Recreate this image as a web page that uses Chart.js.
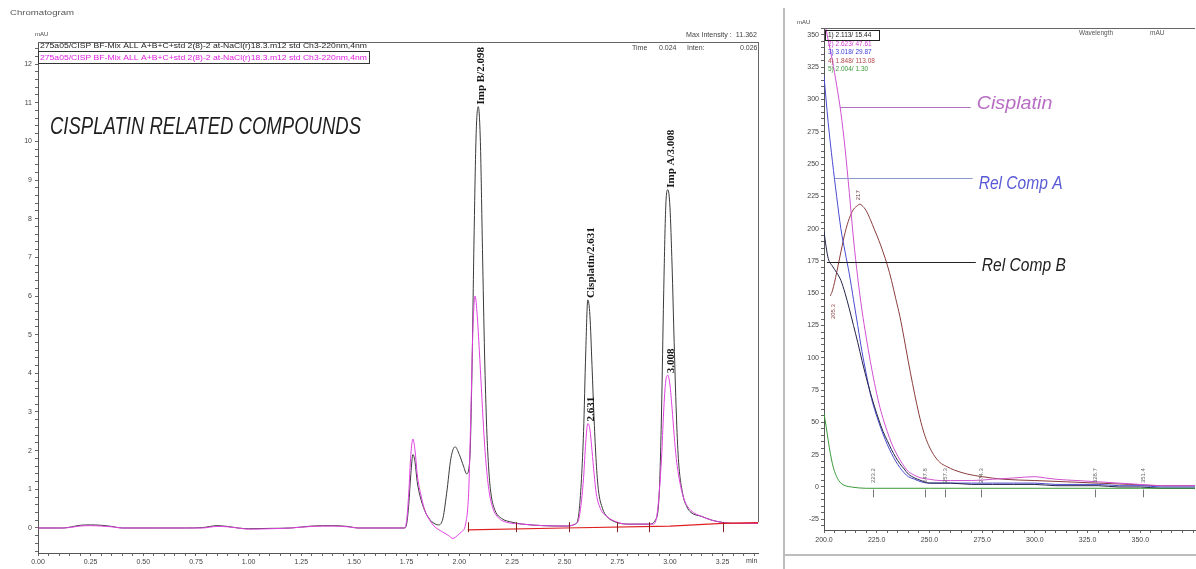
<!DOCTYPE html>
<html><head><meta charset="utf-8">
<script src="https://cdn.jsdelivr.net/npm/chart.js@4.4.1/dist/chart.umd.min.js"></script>
<style>
html,body{margin:0;padding:0;background:#fff;width:1196px;height:569px;overflow:hidden;position:relative}
#left{position:absolute;left:0;top:0}
#right{position:absolute;left:786px;top:0}
.sep{position:absolute;background:#bdbdbd;z-index:2}
</style></head><body>
<canvas id="left" width="783" height="569"></canvas>
<canvas id="right" width="410" height="569"></canvas>
<div class="sep" style="left:783px;top:8px;width:2px;height:561px"></div>
<div class="sep" style="left:785px;top:554px;width:411px;height:2px"></div>
<script>
// ===== LEFT: chromatogram (time in min, signal in mAU) =====
const blackTrace = [
 [0.00,0],[0.12,0],[0.16,0.03],[0.20,0.07],[0.25,0.08],[0.30,0.07],[0.35,0.04],[0.40,0],[0.55,0],[0.70,0],
 [0.78,0.01],[0.85,0.06],[0.90,0.04],[0.95,0],[1.00,-0.02],[1.10,-0.01],[1.20,0],[1.30,0.05],[1.40,0.06],[1.47,0.04],
 [1.52,0],[1.60,0],[1.70,0],[1.74,0],[1.75,0.1],[1.76,0.6],[1.77,1.4],[1.78,1.9],[1.79,1.7],[1.80,1.2],
 [1.82,0.7],[1.84,0.4],[1.86,0.22],[1.88,0.12],[1.90,0.08],[1.92,0.2],[1.94,0.9],[1.96,1.8],[1.98,2.1],[2.00,1.9],
 [2.02,1.6],[2.035,1.4],[2.05,1.8],[2.06,4.0],[2.07,7.5],[2.08,10.2],[2.09,10.9],[2.10,10.0],[2.11,7.2],[2.12,4.5],
 [2.13,2.6],[2.14,1.5],[2.15,0.9],[2.17,0.45],[2.20,0.25],[2.25,0.15],[2.30,0.1],[2.40,0.06],[2.50,0.05],[2.55,0.1],
 [2.57,0.5],[2.59,2.5],[2.60,4.5],[2.61,5.9],[2.62,5.5],[2.63,4.2],[2.64,2.8],[2.65,1.7],[2.66,1.0],[2.68,0.5],
 [2.70,0.3],[2.73,0.18],[2.80,0.1],[2.90,0.1],[2.93,0.2],[2.95,1.0],[2.96,3.0],[2.97,6.0],[2.98,8.3],[2.99,8.75],
 [3.00,8.3],[3.01,6.8],[3.02,4.8],[3.03,3.0],[3.04,1.8],[3.06,0.9],[3.08,0.55],[3.10,0.4],[3.15,0.3],[3.20,0.2],
 [3.30,0.12],[3.42,0.12]
];
const magentaTrace = [
 [0.00,0],[0.12,0],[0.16,0.02],[0.20,0.05],[0.25,0.06],[0.30,0.05],[0.35,0.03],[0.40,0],[0.55,0],[0.70,0],
 [0.78,0],[0.85,0.04],[0.90,0.03],[0.95,0],[1.00,-0.03],[1.10,-0.02],[1.20,0],[1.30,0.04],[1.40,0.05],[1.47,0.03],
 [1.52,0],[1.60,0],[1.70,0],[1.74,0],[1.75,0.2],[1.76,0.9],[1.77,1.9],[1.78,2.3],[1.79,2.0],[1.80,1.4],
 [1.82,0.8],[1.84,0.4],[1.86,0.2],[1.88,0.05],[1.92,-0.1],[1.95,-0.2],[1.97,-0.27],[1.99,-0.2],[2.01,-0.1],[2.03,0.1],
 [2.045,1.0],[2.055,3.0],[2.065,5.2],[2.075,6.0],[2.085,5.5],[2.095,4.6],[2.105,3.6],[2.115,2.6],[2.125,1.8],[2.14,1.0],
 [2.16,0.5],[2.18,0.3],[2.20,0.2],[2.30,0.1],[2.50,0.05],[2.55,0.1],[2.57,0.3],[2.59,1.3],[2.60,2.2],[2.61,2.7],
 [2.62,2.55],[2.63,2.0],[2.64,1.4],[2.65,0.9],[2.67,0.5],[2.70,0.3],[2.75,0.15],[2.80,0.1],[2.92,0.1],[2.94,0.4],
 [2.96,1.8],[2.97,3.0],[2.98,3.8],[2.99,3.95],[3.00,3.7],[3.01,3.1],[3.02,2.4],[3.03,1.8],[3.05,1.1],[3.07,0.7],
 [3.10,0.45],[3.15,0.3],[3.20,0.2],[3.30,0.12],[3.42,0.12]
];
const integrationBaseline = [[2.04,-0.05],[2.50,0.0],[3.00,0.05],[3.25,0.12],[3.42,0.14]];
const baselineMarks = [2.04, 2.27, 2.52, 2.75, 2.90, 3.25];
const leftPeakLabels = [
 {text:'Imp B/2.098', t:2.09, v:10.9},
 {text:'Cisplatin/2.631', t:2.61, v:5.9},
 {text:'Imp A/3.008', t:2.99, v:8.75},
 {text:'2.631', t:2.61, v:2.7},
 {text:'3.008', t:2.99, v:3.95}
];
const leftLegend = [
 '275a05/CISP BF-Mix ALL A+B+C+std 2(8)-2 at-NaCl(r)18.3.m12 std Ch3-220nm,4nm',
 '275a05/CISP BF-Mix ALL A+B+C+std 2(8)-2 at-NaCl(r)18.3.m12 std Ch3-220nm,4nm'
];

// ===== RIGHT: UV spectra (wavelength nm, absorbance mAU) =====
const spec1Black = [
 [200,198],[201,186],[202,177],[204,171],[206,166],[208,160],[210,150],[212,138],[214,125],[216,112],
 [218,98],[220,85],[222,73],[224,62],[226,52],[228,43],[230,36],[232,29],[234,23],[236,18],
 [238,14],[240,10],[243,7],[246,5],[250,3],[260,3],[270,2],[280,2],[290,2],[300,2],
 [310,1],[320,1],[330,1],[340,0],[350,0],[360,-1],[376,-1]
];
const spec2Magenta = [
 [200,362],[202,346],[204,330],[206,311],[208,290],[210,262],[212,228],[214,192],[216,162],[218,137],
 [220,116],[222,97],[224,80],[226,65],[228,53],[230,43],[232,34],[234,27],[236,21],[238,16],
 [240,12],[243,9],[246,7],[250,6],[255,5],[260,5],[270,5],[280,6],[290,7],[300,8],
 [305,7],[310,6],[320,5],[330,4],[340,3],[350,2],[360,1],[376,1]
];
const spec3Blue = [
 [200,318],[202,282],[204,252],[206,225],[208,200],[210,182],[212,165],[214,145],[216,125],[218,105],
 [220,88],[222,72],[224,60],[226,50],[228,41],[230,33],[232,26],[234,20],[236,15],[238,11],
 [240,8],[243,6],[246,4],[250,3],[260,3],[270,3],[280,3],[290,3],[300,3],[310,2],
 [320,2],[330,2],[340,1],[350,1],[360,0],[376,0]
];
const spec4Brown = [
 [203,148],[204,152],[206,166],[208,182],[210,197],[212,208],[214,215],[216,218],[217,219],[218,218],
 [220,214],[222,207],[224,199],[226,191],[228,182],[230,172],[232,160],[234,146],[236,132],[238,115],
 [240,97],[242,80],[244,64],[246,50],[248,39],[250,31],[252,25],[255,19],[258,16],[262,13],
 [268,10],[275,8],[285,6],[300,5],[315,4],[330,3],[345,2],[360,1],[376,1]
];
const spec5Green = [
 [200,57],[201,47],[202,36],[203,26],[204,18],[205,12],[206,8],[207,5],[208,3],[210,1],
 [213,0],[220,-1],[250,-1],[300,-1],[350,-1],[376,-1]
];
const rightLegend = [
 ['1) 2.113/ 15.44','#222222'],
 ['2) 2.623/ 47.61','#d040d0'],
 ['3) 3.018/ 29.87','#3a3ad8'],
 ['4) 1.848/ 113.08','#b04848'],
 ['5) 2.004/ 1.30','#3a9a3a']
];
const rightCallouts = [
 {text:'Cisplatin', from:207.6, to:269.6, v:294, color:'#b86cc4', lineColor:'#b070c0', dy:-4},
 {text:'Rel Comp A', from:205.2, to:270.5, v:239, color:'#5a5ad6', lineColor:'#8c96c8', dy:5},
 {text:'Rel Comp B', from:201.4, to:272.0, v:174, color:'#222222', lineColor:'#222222', dy:3}
];
const rightApexLabels = [
 {text:'217', nm:216.2, v:222, color:'#704040'},
 {text:'205.3', nm:204.2, v:130, color:'#904848'}
];
const rightBaseLabels = [
 {text:'223.2', nm:223.2}, {text:'247.8', nm:247.8}, {text:'257.3', nm:257.3},
 {text:'274.3', nm:274.3}, {text:'328.7', nm:328.7}, {text:'351.4', nm:351.4}
];

// ===== helpers =====
const SANS = '"Liberation Sans", Arial, sans-serif';
const NARROW = '"Liberation Sans Narrow", "Liberation Sans", Arial, sans-serif';
function txt(ctx, s, x, y, o) {
  o = o || {};
  ctx.save();
  ctx.font = o.font || ('7px ' + SANS);
  ctx.fillStyle = o.color || '#444';
  ctx.textAlign = o.align || 'left';
  ctx.textBaseline = o.base || 'middle';
  if (o.width) {
    const w = ctx.measureText(s).width;
    ctx.translate(x, y); ctx.scale(o.width / w, 1); ctx.fillText(s, 0, 0);
  } else ctx.fillText(s, x, y);
  ctx.restore();
}
function rtxt(ctx, s, x, y, font, color) {
  ctx.save(); ctx.translate(x, y); ctx.rotate(-Math.PI / 2);
  ctx.font = font; ctx.fillStyle = color; ctx.textAlign = 'left'; ctx.textBaseline = 'middle';
  ctx.fillText(s, 0, 0); ctx.restore();
}
const isMult = (v, m) => Math.abs(v / m - Math.round(v / m)) < 1e-6;
function tickList(from, to, step) {
  const out = []; const n = Math.round((to - from) / step);
  for (let i = 0; i <= n; i++) out.push({value: +(from + i * step).toFixed(4)});
  return out;
}
const pts = arr => arr.map(p => ({x: p[0], y: p[1]}));
const tickFont = {family: SANS, size: 7};

// ===== LEFT CHART =====
const leftDeco = {
  id: 'leftDeco',
  afterDraw(chart) {
    const {ctx, chartArea: a, scales: {x, y}} = chart;
    ctx.save();
    ctx.strokeStyle = '#666'; ctx.lineWidth = 1;
    ctx.beginPath();
    ctx.moveTo(a.left, a.top + 0.5); ctx.lineTo(a.right, a.top + 0.5);
    ctx.moveTo(a.right + 0.5, a.top); ctx.lineTo(a.right + 0.5, y.getPixelForValue(0.15));
    ctx.stroke();
    // integration marks
    ctx.strokeStyle = '#802020';
    baselineMarks.forEach(t => {
      const px = Math.round(x.getPixelForValue(t)) + 0.5, py = y.getPixelForValue(0.02);
      ctx.beginPath(); ctx.moveTo(px, py - 5); ctx.lineTo(px, py + 5); ctx.stroke();
    });
    // legend boxes
    ctx.strokeStyle = '#333';
    ctx.strokeRect(38.5, 51.5, 331, 12);
    ctx.restore();
    txt(ctx, leftLegend[0], 40, 46.5, {font: '7px ' + SANS, color: '#222', width: 327});
    txt(ctx, leftLegend[1], 40, 58, {font: '7px ' + SANS, color: '#e020e0', width: 327});
    txt(ctx, 'Chromatogram', 10, 13, {font: '7px ' + SANS, color: '#555', width: 64});
    txt(ctx, 'mAU', 35, 34, {font: '6px ' + SANS, color: '#444'});
    txt(ctx, 'Max Intensity :  11.362', 686, 35, {font: '7px ' + SANS, color: '#444', width: 71});
    txt(ctx, 'Time', 632, 48, {font: '7px ' + SANS, color: '#444'});
    txt(ctx, '0.024', 659, 48, {font: '7px ' + SANS, color: '#444'});
    txt(ctx, 'Inten:', 687, 48, {font: '7px ' + SANS, color: '#444'});
    txt(ctx, '0.026', 740, 48, {font: '7px ' + SANS, color: '#444'});
    txt(ctx, 'min', 746, 561, {font: '7px ' + SANS, color: '#444'});
    txt(ctx, 'CISPLATIN RELATED COMPOUNDS', 50, 127,
        {font: 'italic 24px ' + NARROW, color: '#1e1e1e', width: 311});
    leftPeakLabels.forEach(p => {
      rtxt(ctx, p.text, x.getPixelForValue(p.t) + 3, y.getPixelForValue(p.v) - 2,
           'bold 11px "Liberation Serif", "DejaVu Serif", serif', '#151515');
    });
  }
};

new Chart(document.getElementById('left'), {
  type: 'line',
  data: {
    datasets: [
      {data: pts(integrationBaseline), borderColor: '#e02020', borderWidth: 1.2, pointRadius: 0, tension: 0},
      {data: pts(magentaTrace), borderColor: '#e040e0', borderWidth: 1, pointRadius: 0, cubicInterpolationMode: 'monotone'},
      {data: pts(blackTrace), borderColor: '#3a3a3a', borderWidth: 1, pointRadius: 0, cubicInterpolationMode: 'monotone'}
    ]
  },
  options: {
    responsive: false, animation: false, events: [],
    layout: {padding: {left: 0, top: 42, right: 25, bottom: 0}},
    plugins: {legend: {display: false}, tooltip: {enabled: false}},
    scales: {
      x: {
        type: 'linear', min: 0, max: 3.418,
        afterBuildTicks: ax => { ax.ticks = tickList(0, 3.4, 0.05); },
        afterFit: s => { s.height = 16; },
        grid: {drawOnChartArea: false, drawTicks: true, tickLength: 3, color: '#666'},
        border: {display: true, color: '#555'},
        ticks: {autoSkip: false, maxRotation: 0, minRotation: 0, padding: 2, font: tickFont, color: '#444',
                callback: v => isMult(v, 0.25) ? v.toFixed(2) : ''}
      },
      y: {
        type: 'linear', min: -0.647, max: 12.57,
        afterBuildTicks: ax => { ax.ticks = tickList(-0.6, 12.4, 0.2); },
        afterFit: s => { s.width = 38; },
        grid: {drawOnChartArea: false, drawTicks: true, tickLength: 3, color: '#666'},
        border: {display: true, color: '#555'},
        ticks: {autoSkip: false, padding: 3, font: tickFont, color: '#444',
                callback: v => isMult(v, 1) ? String(Math.round(v)) : ''}
      }
    }
  },
  plugins: [leftDeco]
});

// ===== RIGHT CHART =====
const RX = 786;
const rightDeco = {
  id: 'rightDeco',
  afterDraw(chart) {
    const {ctx, chartArea: a, scales: {x, y}} = chart;
    ctx.save();
    ctx.strokeStyle = '#666'; ctx.lineWidth = 1;
    ctx.beginPath(); ctx.moveTo(a.left, a.top + 0.5); ctx.lineTo(a.right, a.top + 0.5); ctx.stroke();
    // callout leader lines
    rightCallouts.forEach(c => {
      const py = Math.round(y.getPixelForValue(c.v)) + 0.5;
      ctx.strokeStyle = c.lineColor; ctx.lineWidth = 1;
      ctx.beginPath(); ctx.moveTo(x.getPixelForValue(c.from), py); ctx.lineTo(x.getPixelForValue(c.to), py); ctx.stroke();
      txt(ctx, c.text, x.getPixelForValue(c.to) + 6, py + c.dy,
          {font: 'italic 19px ' + NARROW, color: c.color, width: c.text.length * 8.4});
    });
    // base labels with ticks
    ctx.strokeStyle = '#777';
    rightBaseLabels.forEach(b => {
      const px = Math.round(x.getPixelForValue(b.nm)) + 0.5;
      ctx.beginPath(); ctx.moveTo(px, y.getPixelForValue(-2)); ctx.lineTo(px, y.getPixelForValue(-8)); ctx.stroke();
      rtxt(ctx, b.text, px, y.getPixelForValue(3), '6px ' + SANS, '#666');
    });
    rightApexLabels.forEach(b => {
      const px = x.getPixelForValue(b.nm);
      rtxt(ctx, b.text, px, y.getPixelForValue(b.v), '6px ' + SANS, b.color);
    });
    // legend box
    ctx.strokeStyle = '#222';
    ctx.strokeRect(825.5 - RX, 30.5, 54, 10);
    ctx.restore();
    rightLegend.forEach((l, i) => {
      txt(ctx, l[0], 828 - RX, 35.5 + i * 8.5, {font: '6.5px ' + SANS, color: l[1]});
    });
    txt(ctx, 'mAU', 797 - RX, 22, {font: '6px ' + SANS, color: '#444'});
    txt(ctx, 'Wavelength', 1079 - RX, 33, {font: '6.5px ' + SANS, color: '#555'});
    txt(ctx, 'mAU', 1150 - RX, 33, {font: '6.5px ' + SANS, color: '#555'});
  }
};

new Chart(document.getElementById('right'), {
  type: 'line',
  data: {
    datasets: [
      {data: pts(spec5Green), borderColor: '#3a9a3a', borderWidth: 1, pointRadius: 0, cubicInterpolationMode: 'monotone'},
      {data: pts(spec1Black), borderColor: '#23234a', borderWidth: 1, pointRadius: 0, cubicInterpolationMode: 'monotone'},
      {data: pts(spec3Blue), borderColor: '#4a4ad0', borderWidth: 1, pointRadius: 0, cubicInterpolationMode: 'monotone'},
      {data: pts(spec2Magenta), borderColor: '#d050d0', borderWidth: 1, pointRadius: 0, cubicInterpolationMode: 'monotone'},
      {data: pts(spec4Brown), borderColor: '#8a3c3c', borderWidth: 1, pointRadius: 0, cubicInterpolationMode: 'monotone'}
    ]
  },
  options: {
    responsive: false, animation: false, events: [],
    layout: {padding: {left: 0, top: 28, right: 0, bottom: 0}},
    plugins: {legend: {display: false}, tooltip: {enabled: false}},
    scales: {
      x: {
        type: 'linear', min: 200, max: 376,
        afterBuildTicks: ax => { ax.ticks = tickList(200, 375, 5); },
        afterFit: s => { s.height = 39; },
        grid: {drawOnChartArea: false, drawTicks: true, tickLength: 3, color: '#666'},
        border: {display: true, color: '#555'},
        ticks: {autoSkip: false, maxRotation: 0, minRotation: 0, padding: 3, font: tickFont, color: '#444',
                callback: v => (isMult(v, 25) && v <= 350) ? v.toFixed(1) : ''}
      },
      y: {
        type: 'linear', min: -33.3, max: 355.4,
        afterBuildTicks: ax => { ax.ticks = tickList(-30, 355, 5); },
        afterFit: s => { s.width = 38; },
        grid: {drawOnChartArea: false, drawTicks: true, tickLength: 3, color: '#666'},
        border: {display: true, color: '#555'},
        ticks: {autoSkip: false, padding: 2, font: tickFont, color: '#444',
                callback: v => isMult(v, 25) ? String(Math.round(v)) : ''}
      }
    }
  },
  plugins: [rightDeco]
});
</script>
</body></html>
